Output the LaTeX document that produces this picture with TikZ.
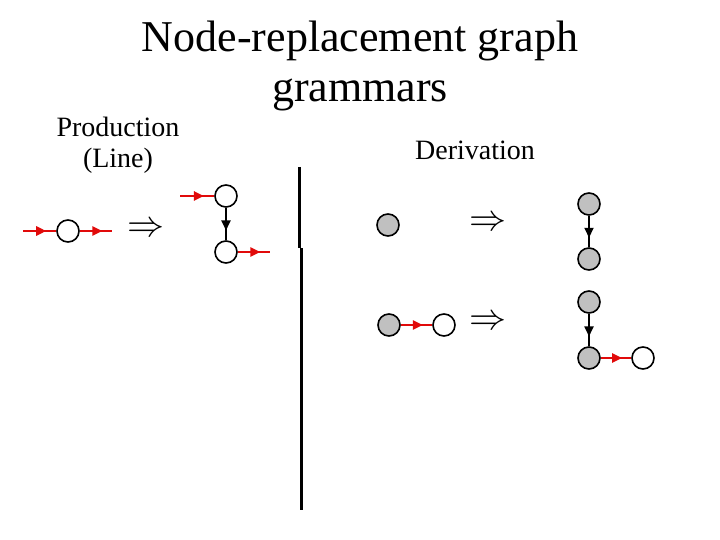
\documentclass[tikz,border=0pt]{standalone}
\usepackage{graphicx}
\usepackage{fontspec}
\setmainfont{Liberation Serif}
\usetikzlibrary{arrows.meta,decorations.markings}

\definecolor{linered}{RGB}{225,10,10}
\definecolor{nodegray}{RGB}{192,192,192}

\tikzset{
  vtx/.style={circle,draw,line width=1.6pt,minimum size=22pt,inner sep=0pt,fill=white},
  gvtx/.style={vtx,fill=nodegray},
  midarrow/.style={decoration={markings,mark=at position 0.7 with {\arrow{Triangle[length=10pt,width=9pt]}}},postaction={decorate}},
  redge/.style={color=linered,line width=2.8pt,midarrow},
  bedge/.style={color=black,line width=1.8pt,midarrow},
  yields/.style={inner sep=0pt}
}
\newcommand{\bigyields}{\scalebox{3.7}{$\Rightarrow$}}

\begin{document}
\begin{tikzpicture}[x=1pt,y=-1pt]
 \useasboundingbox (0,0) rectangle (720,540);

 % title and headings
 \node[anchor=base,font=\fontsize{44}{50}\selectfont] (title1) at (360,52) {Node-replacement graph};
 \node[anchor=base,font=\fontsize{44}{50}\selectfont] (title2) at (360,102) {grammars};
 \node[anchor=base,font=\fontsize{28}{32}\selectfont] (prodhead) at (118,137) {Production};
 \node[anchor=base,font=\fontsize{28}{32}\selectfont] (linehead) at (118,168) {(Line)};
 \node[anchor=base,font=\fontsize{28}{32}\selectfont] (derhead) at (475,160) {Derivation};

 % production
 \node[vtx] (lhs) at (68,231) {};
 \coordinate (lhsin) at (23,231);
 \coordinate (lhsout) at (112,231);
 \draw[redge] (lhsin) -- (lhs);
 \draw[redge] (lhs) -- (lhsout);
 \node[yields] (prodto) at (146,230) {\bigyields};
 \node[vtx] (rhstop) at (226,196) {};
 \node[vtx] (rhsbot) at (226,252) {};
 \coordinate (rhsin) at (180,196);
 \coordinate (rhsout) at (270,252);
 \draw[redge] (rhsin) -- (rhstop);
 \draw[bedge] (rhstop) -- (rhsbot);
 \draw[redge] (rhsbot) -- (rhsout);

 % separator
 \draw[line width=3pt] (299,167) -- (299,248);
 \draw[line width=3pt] (301,248) -- (301,510);

 % derivation, first step
 \node[gvtx] (d1a) at (388,225) {};
 \node[yields] (derto1) at (488,224) {\bigyields};
 \node[gvtx] (d1b) at (589,204) {};
 \node[gvtx] (d1c) at (589,259) {};
 \draw[bedge] (d1b) -- (d1c);

 % derivation, second step
 \node[gvtx] (d2a) at (389,325) {};
 \node[vtx] (d2b) at (444,325) {};
 \draw[redge] (d2a) -- (d2b);
 \node[yields] (derto2) at (488,323) {\bigyields};
 \node[gvtx] (d2c) at (589,302) {};
 \node[gvtx] (d2d) at (589,358) {};
 \node[vtx] (d2e) at (643,358) {};
 \draw[bedge] (d2c) -- (d2d);
 \draw[redge] (d2d) -- (d2e);

\end{tikzpicture}
\end{document}
